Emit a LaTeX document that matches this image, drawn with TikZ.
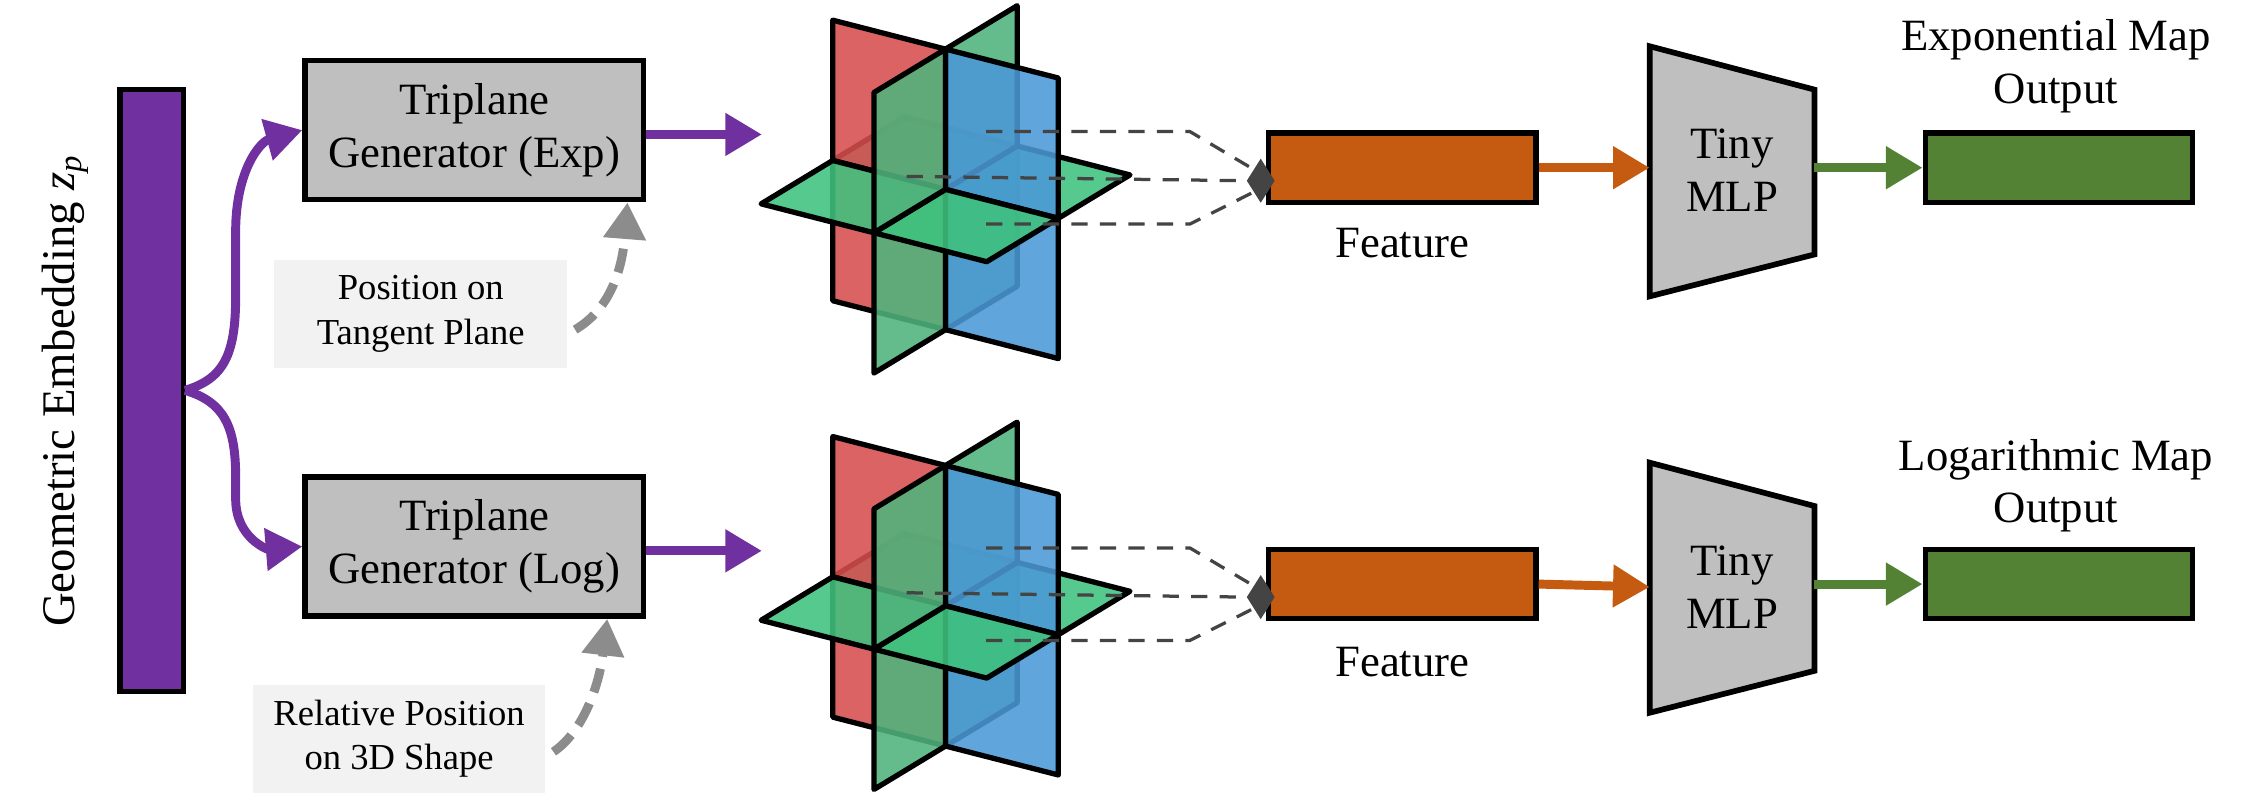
\documentclass[tikz,border=0pt]{standalone}
\usepackage{fontspec}
\setmainfont{Liberation Serif}
\usetikzlibrary{arrows.meta,shapes.geometric}
\definecolor{pur}{HTML}{7030A0}
\definecolor{org}{HTML}{C55A11}
\definecolor{grn}{HTML}{548235}
\definecolor{boxg}{HTML}{BFBFBF}
\definecolor{lite}{HTML}{F2F2F2}
\definecolor{dgray}{HTML}{444444}
\definecolor{agray}{HTML}{8C8C8C}
\definecolor{pred}{HTML}{D64D4D}
\definecolor{pblue}{HTML}{4A98D6}
\definecolor{pgreenh}{HTML}{3FC27E}
\definecolor{pgreenv}{HTML}{4FB37D}
\tikzset{
  gen/.style={draw=black,line width=1.3pt,fill=boxg,minimum width=2.925cm,minimum height=1.2cm,align=center,font=\rmfamily\fontsize{11}{13}\selectfont},
  info/.style={fill=lite,minimum width=2.53cm,minimum height=0.93cm,align=center,font=\rmfamily\fontsize{9}{11}\selectfont},
  vec/.style={draw=black,line width=1.3pt,minimum width=2.31cm,minimum height=0.6cm},
  lab/.style={align=center,font=\rmfamily\fontsize{11}{13}\selectfont},
  thick arrow/.style={line width=2.2pt,-{Triangle[length=9pt,width=10pt]}},
  dasharrow/.style={agray,line width=2.2pt,dash pattern=on 6pt off 3pt,-{Triangle[length=9pt,width=10pt]}},
  feat/.style={dgray,line width=0.8pt,dash pattern=on 4pt off 3pt},
  face/.style={draw=black,line width=1.3pt,line join=round,fill opacity=0.88},
}
\newcommand\tripl[1]{%
\begin{scope}[shift={(654,#1)}]
\begin{scope}[x={(0.975cm,-0.25cm)},y={(0.619cm,0.375cm)},z={(0cm,1.2125cm)}]
 \filldraw[face,fill=pred]   (0,0,0)--(-1,0,0)--(-1,0,-1)--(0,0,-1)--cycle;
 \filldraw[face,fill=pgreenv](0,0,0)--(0,1,0)--(0,1,-1)--(0,0,-1)--cycle;
 \filldraw[face,fill=pgreenh](0,0,0)--(-1,0,0)--(-1,1,0)--(0,1,0)--cycle;
 \filldraw[face,fill=pblue]  (0,0,0)--(1,0,0)--(1,0,-1)--(0,0,-1)--cycle;
 \filldraw[face,fill=pgreenh](0,0,0)--(1,0,0)--(1,1,0)--(0,1,0)--cycle;
 \filldraw[face,fill=pred]   (0,0,0)--(-1,0,0)--(-1,0,1)--(0,0,1)--cycle;
 \filldraw[face,fill=pgreenv](0,0,0)--(0,1,0)--(0,1,1)--(0,0,1)--cycle;
 \filldraw[face,fill=pblue]  (0,0,0)--(1,0,0)--(1,0,1)--(0,0,1)--cycle;
 \filldraw[face,fill=pgreenv](0,0,0)--(0,-1,0)--(0,-1,-1)--(0,0,-1)--cycle;
 \filldraw[face,fill=pgreenh](0,0,0)--(-1,0,0)--(-1,-1,0)--(0,-1,0)--cycle;
 \filldraw[face,fill=pgreenh](0,0,0)--(1,0,0)--(1,-1,0)--(0,-1,0)--cycle;
 \filldraw[face,fill=pgreenv](0,0,0)--(0,-1,0)--(0,-1,1)--(0,0,1)--cycle;
\end{scope}
\end{scope}}
\begin{document}
\begin{tikzpicture}[x=0.0125cm,y=-0.0125cm]
\useasboundingbox (0,0) rectangle (1568,556);
\node[draw=black,line width=1.3pt,fill=pur,minimum width=0.55cm,minimum height=5.2cm,inner sep=0pt] (bar) at (105,270) {};
\node[rotate=90,font=\rmfamily\fontsize{11.5}{13}\selectfont] (emb) at (45,270) {Geometric Embedding \textit{z}\textsubscript{\textit{p}}};
\coordinate (split) at (128,270);
\node[gen] (gexp) at (328,90) {Triplane\\Generator (Exp)};
\node[gen] (glog) at (328,378) {Triplane\\Generator (Log)};
\draw[pur,thick arrow] (split) .. controls (155,262) and (163,245) .. (163,205) -- (163,160) .. controls (163,118) and (180,98) .. (gexp.west);
\draw[pur,thick arrow] (split) .. controls (155,278) and (163,295) .. (163,330) -- (163,345) .. controls (163,372) and (185,380) .. (glog.west);
\node[info] (ptan) at (291,217) {Position on\\Tangent Plane};
\node[info] (prel) at (276,511) {Relative Position\\on 3D Shape};
\coordinate (gexpin) at (434,140);
\coordinate (glogin) at (420,428);
\draw[dasharrow] (ptan.east)++(5,11) .. controls (420,215) and (430,190) .. (gexpin);
\draw[dasharrow] (prel.east)++(5,9) .. controls (405,505) and (415,470) .. (glogin);
\tripl{131}
\tripl{419}
\coordinate (tpa) at (527,93);
\coordinate (tpb) at (527,381);
\draw[pur,thick arrow] (gexp.east|-tpa) -- (tpa);
\draw[pur,thick arrow] (glog.east|-tpb) -- (tpb);
\node[vec,fill=org] (fexp) at (970,116) {};
\node[vec,fill=org] (flog) at (970,404) {};
\node[lab] (fexpl) at (970,168) {Feature};
\node[lab] (flogl) at (970,458) {Feature};
\foreach \dy/\f in {0/fexp,288/flog}{
  \node[diamond,fill=dgray,minimum width=7pt,minimum height=11pt,inner sep=0pt] (d\f) at (872,125+\dy) {};
  \draw[feat] (682,91+\dy) -- (823,91+\dy) -- (d\f.north west);
  \draw[feat] (627,122+\dy) -- (d\f.west);
  \draw[feat] (682,155+\dy) -- (823,155+\dy) -- (d\f.south west);
}
\draw[line width=1.4pt,fill=boxg,line join=miter] (1141,32) -- (1255,62) -- (1255,176) -- (1141,205) -- cycle;
\node[lab] (mlpexp) at (1198,118) {Tiny\\MLP};
\draw[line width=1.4pt,fill=boxg,line join=miter] (1141,320) -- (1255,350) -- (1255,464) -- (1141,493) -- cycle;
\node[lab] (mlplog) at (1198,406) {Tiny\\MLP};
\coordinate (mlpein) at (1141,116);
\coordinate (mlpeout) at (1255,116);
\coordinate (mlplin) at (1141,406);
\coordinate (mlplout) at (1255,404);
\node[vec,fill=grn] (oexp) at (1424,116) {};
\node[vec,fill=grn] (olog) at (1424,404) {};
\node[lab] (oexpl) at (1422,46) {Exponential Map\\Output};
\node[lab] (ologl) at (1422,336) {Logarithmic Map\\Output};
\draw[org,thick arrow] (fexp.east) -- (mlpein);
\draw[org,thick arrow] (flog.east) -- (mlplin);
\draw[grn,thick arrow] (mlpeout) -- (oexp.west);
\draw[grn,thick arrow] (mlplout) -- (olog.west);
\end{tikzpicture}
\end{document}
